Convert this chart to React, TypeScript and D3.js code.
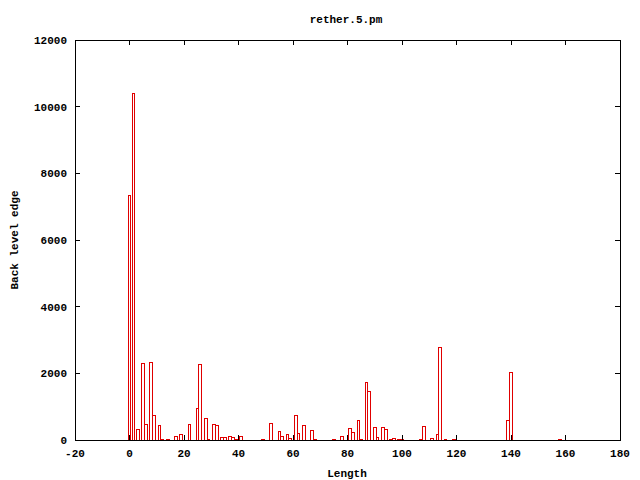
import React from "react";
import * as d3 from "d3";

const lengths = [0, 1.5, 3, 5, 6, 8, 9, 11, 12, 14, 17, 19, 22, 25, 26, 28, 29, 31, 32, 34, 35, 37, 38, 39, 41,
  49, 52, 55, 56, 58, 59, 61, 62, 64, 67, 68, 75, 78, 81, 82, 84, 85, 87, 88, 90, 91, 93, 94, 96, 97, 99, 100,
  107, 108, 111, 113, 114, 116, 119, 139, 140, 158];
const edges = [7340, 10400, 330, 2300, 480, 2330, 740, 440, 30, 30, 120, 180, 480, 960, 2270, 660, 30, 480, 440, 90, 90, 120, 80, 20, 120,
  30, 510, 270, 120, 180, 60, 750, 210, 450, 300, 30, 30, 120, 360, 240, 600, 30, 1740, 1470, 390, 90, 390, 330, 30, 60, 30, 30,
  30, 420, 60, 180, 2780, 15, 30, 600, 2040, 30];
const xTicks = [-20, 0, 20, 40, 60, 80, 100, 120, 140, 160, 180];
const yTicks = [0, 2000, 4000, 6000, 8000, 10000, 12000];

const W = 640, H = 480;
const L = 75, R = 620, T = 40, B = 440;
const font = "'Liberation Mono', 'DejaVu Sans Mono', monospace";

export default function App() {
  const x = d3.scaleLinear().domain([-20, 180]).range([L, R]);
  const y = d3.scaleLinear().domain([0, 12000]).range([B, T]);
  const bw = x(1) - x(0);
  const data = lengths.map((l, i) => ({ l, v: edges[i] }));
  const tl = 5;
  return (
    <svg width={W} height={H} style={{ position: "absolute", left: 0, top: 0, background: "#fff" }}
      fontFamily={font} fontSize={11} fontWeight="bold">
      <rect x={0} y={0} width={W} height={H} fill="#fff" />
      {data.map((d, i) => (
        <rect key={i} x={x(d.l - 0.5)} y={y(d.v)} width={bw} height={Math.max(0, y(0) - y(d.v))}
          fill="none" stroke="#e00000" strokeWidth={1} shapeRendering="crispEdges" />
      ))}
      {xTicks.map((t) => (
        <g key={"x" + t}>
          <line x1={x(t)} x2={x(t)} y1={B} y2={B - tl} stroke="#000" shapeRendering="crispEdges" />
          <line x1={x(t)} x2={x(t)} y1={T} y2={T + tl} stroke="#000" shapeRendering="crispEdges" />
          <text x={x(t)} y={B + 17} textAnchor="middle">{t}</text>
        </g>
      ))}
      {yTicks.map((t) => (
        <g key={"y" + t}>
          <line x1={L} x2={L + tl} y1={y(t)} y2={y(t)} stroke="#000" shapeRendering="crispEdges" />
          <line x1={R} x2={R - tl} y1={y(t)} y2={y(t)} stroke="#000" shapeRendering="crispEdges" />
          <text x={L - 8} y={y(t) + 4} textAnchor="end">{t}</text>
        </g>
      ))}
      <rect x={L} y={T} width={R - L} height={B - T} fill="none" stroke="#000" shapeRendering="crispEdges" />
      <text x={346} y={23} textAnchor="middle">rether.5.pm</text>
      <text x={347} y={477} textAnchor="middle">Length</text>
      <text transform={`translate(18,240) rotate(-90)`} textAnchor="middle">Back level edge</text>
    </svg>
  );
}
